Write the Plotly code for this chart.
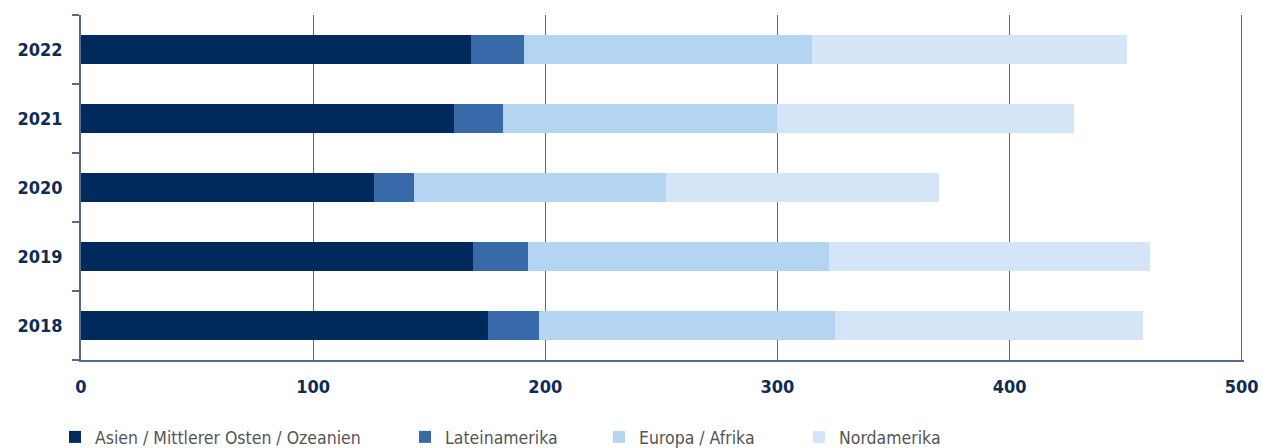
import plotly.graph_objects as go

years = ["2018", "2019", "2020", "2021", "2022"]
asien = [175.2, 168.8, 126.1, 160.5, 168.1]
latein = [22.0, 23.7, 17.2, 21.2, 22.9]
europa = [127.8, 129.9, 108.9, 118.2, 124.0]
nordam = [132.4, 138.0, 117.2, 127.7, 135.8]
x_ticks = [0, 100, 200, 300, 400, 500]

names = ["Asien / Mittlerer Osten / Ozeanien", "Lateinamerika", "Europa / Afrika", "Nordamerika"]
colors = ["#002a5c", "#386aaa", "#b4d5f1", "#d3e5f6"]
series = [asien, latein, europa, nordam]
legend_ids = ["legend", "legend2", "legend3", "legend4"]
legend_text_px = [96, 446, 640, 840]

W, H = 1262, 448
ml, mr, mt, mb = 81, 18, 15, 88
pw = W - ml - mr
ph = H - mt - mb

fig = go.Figure()
for name, col, vals, lid in zip(names, colors, series, legend_ids):
    fig.add_trace(go.Bar(
        y=years, x=vals, name=name, orientation="h",
        marker=dict(color=col, line=dict(width=0)),
        legend=lid,
    ))

axis_col = "#55698a"
fam = "DejaVu Sans Condensed, Liberation Sans Narrow, sans-serif"
tick_font = dict(family=fam, size=18, color="#0d2c57", weight="bold")
legend_font = dict(family=fam, size=17.5, color="#555555")

layout_legends = {}
for lid, px in zip(legend_ids, legend_text_px):
    layout_legends[lid] = dict(
        x=(px - 41 - ml) / pw, xanchor="left",
        y=(mt + ph - 437) / ph, yanchor="middle",
        orientation="h", font=legend_font, bgcolor="rgba(0,0,0,0)",
        borderwidth=0, itemclick=False,
    )

fig.update_layout(
    width=W, height=H,
    margin=dict(l=ml, r=mr, t=mt, b=mb, autoexpand=False),
    barmode="stack",
    bargap=0.58,
    plot_bgcolor="white", paper_bgcolor="white",
    showlegend=True,
    **layout_legends,
)

fig.update_xaxes(
    range=[0, 501], tickvals=x_ticks, ticktext=[str(v) for v in x_ticks],
    showgrid=True, gridcolor=axis_col, gridwidth=1,
    showline=True, linecolor=axis_col, linewidth=1.5,
    ticks="", tickfont=tick_font, ticklabelstandoff=10,
    zeroline=False, fixedrange=True, automargin=False,
)
fig.update_yaxes(
    type="category", categoryorder="array", categoryarray=years,
    showline=True, linecolor=axis_col, linewidth=1.5,
    ticks="outside", tickson="boundaries", ticklen=7, tickcolor=axis_col, tickwidth=1.5,
    tickfont=tick_font, ticklabelstandoff=13, showgrid=False, fixedrange=True,
    automargin=False,
)

fig.write_html(
    "out.html",
    config={"displayModeBar": False},
    post_script="document.body.style.margin='0';document.body.style.overflow='hidden';",
)
